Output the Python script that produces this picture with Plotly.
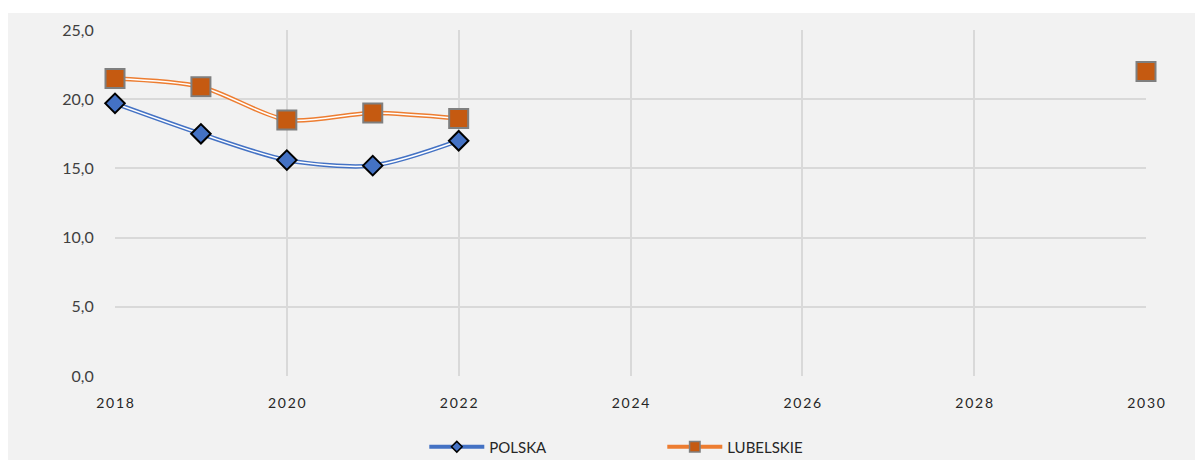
import plotly.graph_objects as go

# Data
years = [2018, 2019, 2020, 2021, 2022, 2030]
polska = [19.7, 17.5, 15.6, 15.2, 17.0, None]
lubelskie = [21.5, 20.9, 18.5, 19.0, 18.6, 22.0]
x_ticks = [2018, 2020, 2022, 2024, 2026, 2028, 2030]
y_ticks = [0, 5, 10, 15, 20, 25]

FONT = "Lato, Carlito, Calibri, sans-serif"
BG = "#f2f2f2"


def spaced(n):
    # Excel tick labels here are letter-spaced
    return "\u2009".join(str(n))


series = [
    ("POLSKA", polska, "#4472C4", dict(symbol="diamond", size=15, color="#4472C4",
                                        line=dict(color="black", width=2))),
    ("LUBELSKIE", lubelskie, "#ED7D31", dict(symbol="square", size=19, color="#C55A11",
                                            line=dict(color="#7f7f7f", width=2))),
]

fig = go.Figure()

for name, vals, col, mk in series:
    # connected part: only the consecutive years 2018-2022
    lx = [x for x, v in zip(years, vals) if v is not None and x <= 2022]
    ly = [v for x, v in zip(years, vals) if v is not None and x <= 2022]
    # outer coloured line
    fig.add_trace(go.Scatter(
        x=lx, y=ly, mode="lines", showlegend=False,
        line=dict(color=col, width=4.5, shape="spline", smoothing=0.8),
        hoverinfo="skip"
    ))
    # white centre to mimic Excel's double line
    fig.add_trace(go.Scatter(
        x=lx, y=ly, mode="lines", showlegend=False,
        line=dict(color="white", width=1.5, shape="spline", smoothing=0.8),
        hoverinfo="skip"
    ))

# markers on top of all lines
for name, vals, col, mk in series:
    px_ = [x for x, v in zip(years, vals) if v is not None]
    py_ = [v for v in vals if v is not None]
    fig.add_trace(go.Scatter(
        x=px_, y=py_, mode="markers", marker=mk, showlegend=False,
        cliponaxis=False,
        name=name, hovertemplate="%{x}: %{y:.1f}<extra>" + name + "</extra>"
    ))

# legend-only entries with smaller symbols, like Excel
for name, vals, col, mk in series:
    small = dict(mk, size=mk["size"] * 0.55, line=dict(mk["line"], width=1.5))
    fig.add_trace(go.Scatter(
        x=[None], y=[None], mode="lines+markers", name=name,
        line=dict(color=col, width=4), marker=small
    ))

# page body adds an 8px offset, so the figure is shifted up/left by 8px
fig.update_layout(
    width=1203, height=460,
    margin=dict(l=107, r=65, t=22, b=92),
    paper_bgcolor="white",
    plot_bgcolor="rgba(0,0,0,0)",
    separators=", ",
    font=dict(family=FONT, size=16, color="#404040"),
    showlegend=True,
    legend=dict(orientation="h", x=0.30, xanchor="left",
                yref="container", y=(460 - 439) / 460, yanchor="middle",
                entrywidth=168, itemwidth=55, font=dict(size=15, color="#262626"),
                bgcolor="rgba(0,0,0,0)"),
    shapes=[dict(type="rect", xref="paper", yref="paper", layer="below",
                 x0=-0.2, x1=1.2, y0=-0.4, y1=(368 - 5) / 346,
                 fillcolor=BG, line=dict(width=0))],
)

fig.update_xaxes(
    range=[2018, 2030], tickvals=x_ticks, ticktext=[spaced(t) for t in x_ticks],
    showgrid=True, gridcolor="#d9d9d9", gridwidth=1.5, zeroline=False,
    showline=False, ticks="outside", ticklen=14, tickcolor="rgba(0,0,0,0)",
    tickfont=dict(size=14, color="#262626")
)
fig.update_yaxes(
    range=[0, 25], tickvals=y_ticks, tickformat=".1f",
    showgrid=True, gridcolor="#d9d9d9", gridwidth=1.5, zeroline=False,
    showline=False, ticks="outside", ticklen=17, tickcolor="rgba(0,0,0,0)",
    tickfont=dict(size=16, color="#404040")
)

fig.write_html("out.html")
